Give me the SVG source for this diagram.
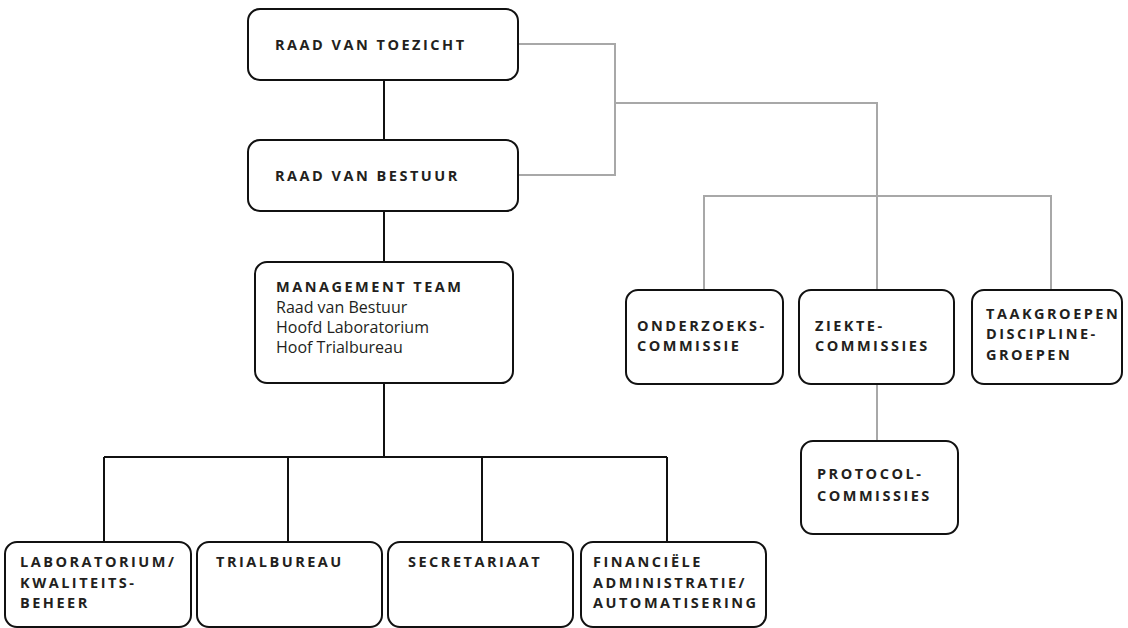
<svg xmlns="http://www.w3.org/2000/svg" width="1128" height="628" viewBox="0 0 1128 628">
<style>
.box{fill:#fff;stroke:#111;stroke-width:2}
.blk{fill:none;stroke:#111;stroke-width:2}
.gry{fill:none;stroke:#a8a8a8;stroke-width:2}
.t{font-family:"Open Sans","Liberation Sans",sans-serif;font-weight:bold;font-size:14.5px;letter-spacing:2.5px;fill:#231f20}
.r{font-family:"Open Sans","Liberation Sans",sans-serif;font-size:16px;fill:#231f20}
</style>
<rect width="1128" height="628" fill="#fff"/>
<g id="connectors">
<path class="blk" d="M384 80V140M384 211V262M384 383V457M104 457H667M104 457V542M288 457V542M482 457V542M667 457V542"/>
<path class="gry" d="M518 44H615V175H518M615 103H877V290M704 290V196H1051V290M877 384V441"/>
</g>
<g id="raad-van-toezicht"><rect class="box" x="248" y="9" width="270" height="71" rx="12"/><text class="t" x="275" y="50">RAAD VAN TOEZICHT</text></g>
<g id="raad-van-bestuur"><rect class="box" x="248" y="140" width="270" height="71" rx="12"/><text class="t" x="275" y="181">RAAD VAN BESTUUR</text></g>
<g id="management-team"><rect class="box" x="255" y="262" width="258" height="121" rx="12"/><text class="t" x="276" y="292">MANAGEMENT TEAM</text><text class="r" x="276" y="313">Raad van Bestuur</text><text class="r" x="276" y="333">Hoofd Laboratorium</text><text class="r" x="276" y="353">Hoof Trialbureau</text></g>
<g id="onderzoekscommissie"><rect class="box" x="626" y="290" width="157" height="94" rx="12"/><text class="t" x="637" y="331">ONDERZOEKS-</text><text class="t" x="637" y="351">COMMISSIE</text></g>
<g id="ziektecommissies"><rect class="box" x="799" y="290" width="155" height="94" rx="12"/><text class="t" x="815" y="331">ZIEKTE-</text><text class="t" x="815" y="351">COMMISSIES</text></g>
<g id="taakgroepen"><rect class="box" x="972" y="290" width="150" height="94" rx="12"/><text class="t" x="986" y="319">TAAKGROEPEN</text><text class="t" x="986" y="339">DISCIPLINE-</text><text class="t" x="986" y="360">GROEPEN</text></g>
<g id="protocolcommissies"><rect class="box" x="801" y="441" width="157" height="93" rx="12"/><text class="t" x="817" y="479">PROTOCOL-</text><text class="t" x="817" y="501">COMMISSIES</text></g>
<g id="laboratorium"><rect class="box" x="5" y="542" width="186" height="85" rx="12"/><text class="t" x="20" y="567">LABORATORIUM/</text><text class="t" x="20" y="588">KWALITEITS-</text><text class="t" x="20" y="608">BEHEER</text></g>
<g id="trialbureau"><rect class="box" x="197" y="542" width="185" height="85" rx="12"/><text class="t" x="216" y="567">TRIALBUREAU</text></g>
<g id="secretariaat"><rect class="box" x="388" y="542" width="185" height="85" rx="12"/><text class="t" x="408" y="567">SECRETARIAAT</text></g>
<g id="financiele-administratie"><rect class="box" x="581" y="542" width="185" height="85" rx="12"/><text class="t" x="593" y="567">FINANCIËLE</text><text class="t" x="593" y="588">ADMINISTRATIE/</text><text class="t" x="593" y="608">AUTOMATISERING</text></g>
</svg>
